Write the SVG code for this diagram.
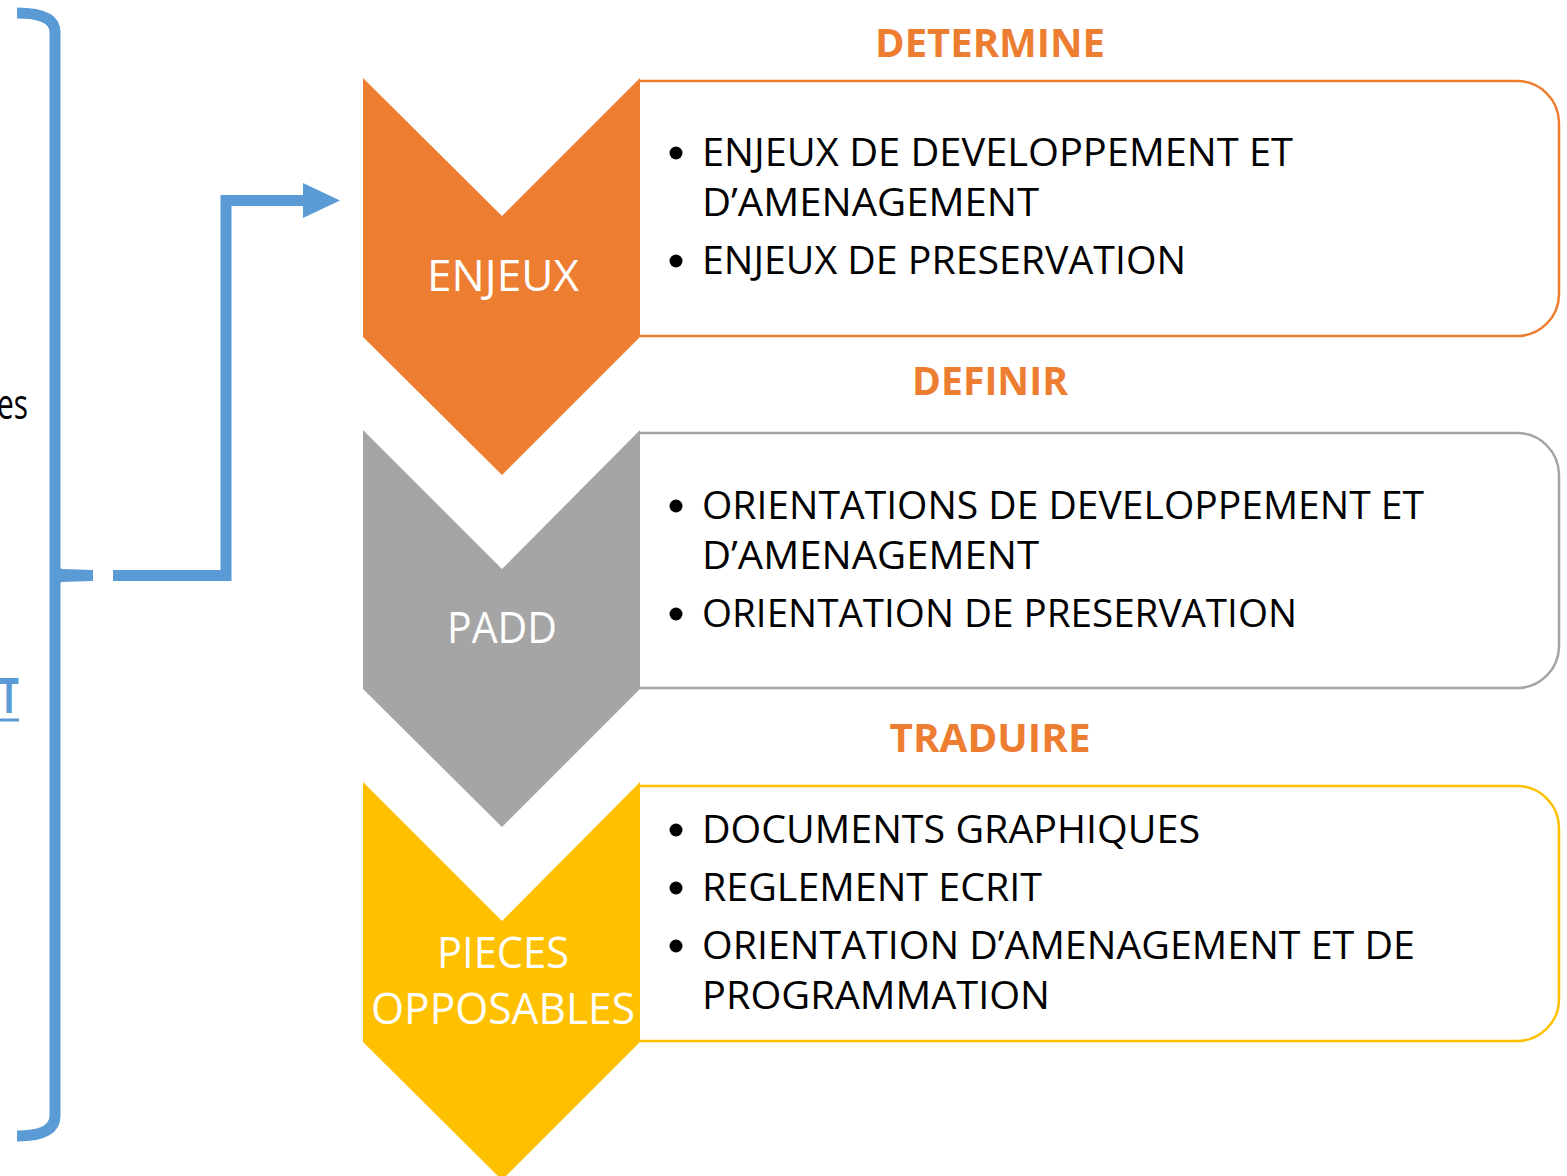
<svg xmlns="http://www.w3.org/2000/svg" width="1567" height="1176" viewBox="0 0 1567 1176">
<style>
.item{font-family:"Open Sans","Liberation Sans",sans-serif;font-size:38px;fill:#000}
.head{font-family:"Open Sans","Liberation Sans",sans-serif;font-size:40px;font-weight:bold;fill:#ED7D31;text-anchor:middle}
.lab{font-family:"Open Sans","Liberation Sans",sans-serif;font-size:44px;fill:#fff;text-anchor:middle}
.box{fill:#fff;stroke-width:2.5}
.blue{fill:none;stroke:#5B9BD5;stroke-width:11}
</style>
<rect width="1567" height="1176" fill="#fff"/>
<g id="left-text">
<text x="28" y="419" text-anchor="end" font-family="Open Sans, Liberation Sans, sans-serif" font-size="42" fill="#000" textLength="31" lengthAdjust="spacingAndGlyphs">es</text>
<text x="19" y="713" text-anchor="end" font-family="Open Sans, Liberation Sans, sans-serif" font-size="48" font-weight="bold" fill="#5B9BD5" textLength="20" lengthAdjust="spacingAndGlyphs">T</text>
<line x1="0" y1="720" x2="19" y2="720" stroke="#5B9BD5" stroke-width="3"/>
</g>
<g id="connectors">
<path class="blue" d="M17,13 Q55,13 55,32 L55,1116 Q55,1136 17,1136"/>
<polygon fill="#5B9BD5" points="50,575 55,566 62,569 93,570 93,581 62,582 55,585"/>
<path class="blue" d="M113,575.5 H226 V200.5 H305"/>
<polygon points="303,183 340,200.5 303,218" fill="#5B9BD5"/>
</g>
<g id="heading-determine"><text class="head" x="990" y="57" textLength="230" lengthAdjust="spacingAndGlyphs">DETERMINE</text></g>
<g id="heading-definir"><text class="head" x="990" y="395" textLength="156" lengthAdjust="spacingAndGlyphs">DEFINIR</text></g>
<g id="heading-traduire"><text class="head" x="990" y="752" textLength="201" lengthAdjust="spacingAndGlyphs">TRADUIRE</text></g>
<g id="box-enjeux">
<path class="box" stroke="#ED7D31" d="M640,81 H1517 A42,42 0 0 1 1559,123 V294 A42,42 0 0 1 1517,336 H640"/>
<circle cx="676" cy="153" r="6.5"/>
<text class="item" x="702" y="166" textLength="591" lengthAdjust="spacingAndGlyphs">ENJEUX DE DEVELOPPEMENT ET</text>
<text class="item" x="702" y="216" textLength="337" lengthAdjust="spacingAndGlyphs">D’AMENAGEMENT</text>
<circle cx="676" cy="261" r="6.5"/>
<text class="item" x="702" y="274" textLength="484" lengthAdjust="spacingAndGlyphs">ENJEUX DE PRESERVATION</text>
</g>
<g id="box-padd">
<path class="box" stroke="#A5A5A5" d="M640,433 H1517 A42,42 0 0 1 1559,475 V646 A42,42 0 0 1 1517,688 H640"/>
<circle cx="676" cy="506" r="6.5"/>
<text class="item" x="702" y="519" textLength="722" lengthAdjust="spacingAndGlyphs">ORIENTATIONS DE DEVELOPPEMENT ET</text>
<text class="item" x="702" y="569" textLength="337" lengthAdjust="spacingAndGlyphs">D’AMENAGEMENT</text>
<circle cx="676" cy="614" r="6.5"/>
<text class="item" x="702" y="627" textLength="595" lengthAdjust="spacingAndGlyphs">ORIENTATION DE PRESERVATION</text>
</g>
<g id="box-pieces">
<path class="box" stroke="#FFC000" d="M640,786 H1517 A42,42 0 0 1 1559,828 V999 A42,42 0 0 1 1517,1041 H640"/>
<circle cx="676" cy="830" r="6.5"/>
<text class="item" x="702" y="843" textLength="498" lengthAdjust="spacingAndGlyphs">DOCUMENTS GRAPHIQUES</text>
<circle cx="676" cy="888" r="6.5"/>
<text class="item" x="702" y="901" textLength="340" lengthAdjust="spacingAndGlyphs">REGLEMENT ECRIT</text>
<circle cx="676" cy="946" r="6.5"/>
<text class="item" x="702" y="959" textLength="713" lengthAdjust="spacingAndGlyphs">ORIENTATION D’AMENAGEMENT ET DE</text>
<text class="item" x="702" y="1009" textLength="348" lengthAdjust="spacingAndGlyphs">PROGRAMMATION</text>
</g>
<g id="chevron-enjeux">
<polygon fill="#ED7D31" points="363,78 502,216 640,78 640,337 502,475 363,337"/>
<text class="lab" x="503" y="291" textLength="152" lengthAdjust="spacingAndGlyphs">ENJEUX</text>
</g>
<g id="chevron-padd">
<polygon fill="#A5A5A5" points="363,430 502,569 640,430 640,689 502,827 363,689"/>
<text class="lab" x="502" y="643" textLength="110" lengthAdjust="spacingAndGlyphs">PADD</text>
</g>
<g id="chevron-pieces">
<polygon fill="#FFC000" points="363,782 502,921 640,782 640,1042 502,1180 363,1042"/>
<text class="lab" x="503" y="968" textLength="132" lengthAdjust="spacingAndGlyphs">PIECES</text>
<text class="lab" x="503" y="1024" textLength="264" lengthAdjust="spacingAndGlyphs">OPPOSABLES</text>
</g>
</svg>
